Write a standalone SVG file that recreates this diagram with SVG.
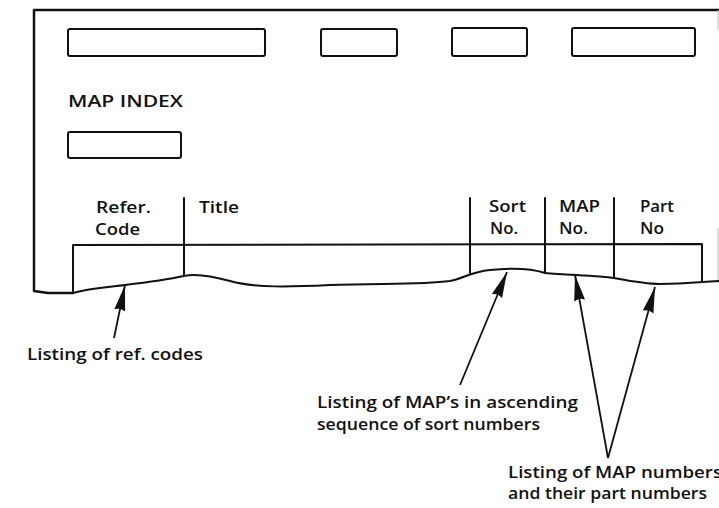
<svg xmlns="http://www.w3.org/2000/svg" width="719" height="508" viewBox="0 0 719 508">
<style>
.ln{fill:none;stroke:#111;stroke-width:2;stroke-linejoin:round;stroke-linecap:round}
.box{fill:none;stroke:#111;stroke-width:2}
.t{font-family:"Open Sans","Liberation Sans",Arial,sans-serif;font-weight:600;font-size:17px;fill:#111}
.cn{fill:none;stroke:#111;stroke-width:1.8}
</style>
<defs>
<marker id="ah" markerUnits="userSpaceOnUse" markerWidth="30" markerHeight="14" refX="26" refY="6" orient="auto">
<path d="M0,0.5 L26,6 L0,11.5 L2,6 z" fill="#111"/>
</marker>
</defs>
<rect width="719" height="508" fill="#fff"/>

<g id="frame">
<path class="ln" d="M719,10 L34,10 L34,291 L48,293 L73,293" style="stroke-width:2.5"/>
<path d="M718,10 L718,30 M718,228 L718,283" fill="none" stroke="#bbb" stroke-width="1"/>
</g>

<g id="field-boxes">
<rect class="box" x="68" y="29" width="197" height="27" rx="2"/>
<rect class="box" x="321" y="29" width="76" height="27" rx="2"/>
<rect class="box" x="452" y="28" width="75" height="28" rx="2"/>
<rect class="box" x="572" y="28" width="123" height="28" rx="2"/>
</g>

<g id="map-index">
<text class="t" x="68" y="107" textLength="115" lengthAdjust="spacingAndGlyphs">MAP INDEX</text>
<rect class="box" x="68" y="132" width="113" height="26" rx="2"/>
</g>

<g id="table">
<path class="ln" d="M73,293 L73,245 L702,244 L702,282"/>
<path class="ln" d="M73,293 C90,288 110,287 125,285 C150,282 170,279 184,276 C192,274 205,274 230,281 C255,288 290,287 330,285 C380,283 420,285 450,281 C465,278 470,272 490,270 C510,268 530,268 545,273 C570,275 600,276 614,278 C630,281 645,284 660,284 C680,284 690,283 702,282 L719,281"/>
<path class="ln" d="M184,198 L184,276 M470,198 L470,273 M545,198 L545,273 M614,198 L614,278"/>
<text class="t" x="96" y="213" textLength="55" lengthAdjust="spacingAndGlyphs">Refer.</text>
<text class="t" x="95" y="235" textLength="45" lengthAdjust="spacingAndGlyphs">Code</text>
<text class="t" x="199" y="213" textLength="40" lengthAdjust="spacingAndGlyphs">Title</text>
<text class="t" x="489" y="212" textLength="37" lengthAdjust="spacingAndGlyphs">Sort</text>
<text class="t" x="490" y="234" textLength="28" lengthAdjust="spacingAndGlyphs">No.</text>
<text class="t" x="559" y="212" textLength="41" lengthAdjust="spacingAndGlyphs">MAP</text>
<text class="t" x="559" y="234" textLength="29" lengthAdjust="spacingAndGlyphs">No.</text>
<text class="t" x="640" y="212" textLength="34" lengthAdjust="spacingAndGlyphs">Part</text>
<text class="t" x="640" y="234" textLength="24" lengthAdjust="spacingAndGlyphs">No</text>
</g>

<g id="label-ref">
<text class="t" x="27" y="360" textLength="176" lengthAdjust="spacingAndGlyphs">Listing of ref. codes</text>
</g>
<g id="label-sort">
<text class="t" x="317" y="408" textLength="261" lengthAdjust="spacingAndGlyphs">Listing of MAP’s in ascending</text>
<text class="t" x="317" y="430" textLength="223" lengthAdjust="spacingAndGlyphs">sequence of sort numbers</text>
</g>
<g id="label-map">
<text class="t" x="508" y="478" textLength="214" lengthAdjust="spacingAndGlyphs">Listing of MAP numbers</text>
<text class="t" x="508" y="499" textLength="199" lengthAdjust="spacingAndGlyphs">and their part numbers</text>
</g>

<g id="connectors">
<line class="cn" x1="114" y1="338" x2="125" y2="285" marker-end="url(#ah)"/>
<line class="cn" x1="460" y1="385" x2="507" y2="272" marker-end="url(#ah)"/>
<line class="cn" x1="608" y1="458" x2="575" y2="275" marker-end="url(#ah)"/>
<line class="cn" x1="608" y1="458" x2="655" y2="287" marker-end="url(#ah)"/>
</g>
</svg>
